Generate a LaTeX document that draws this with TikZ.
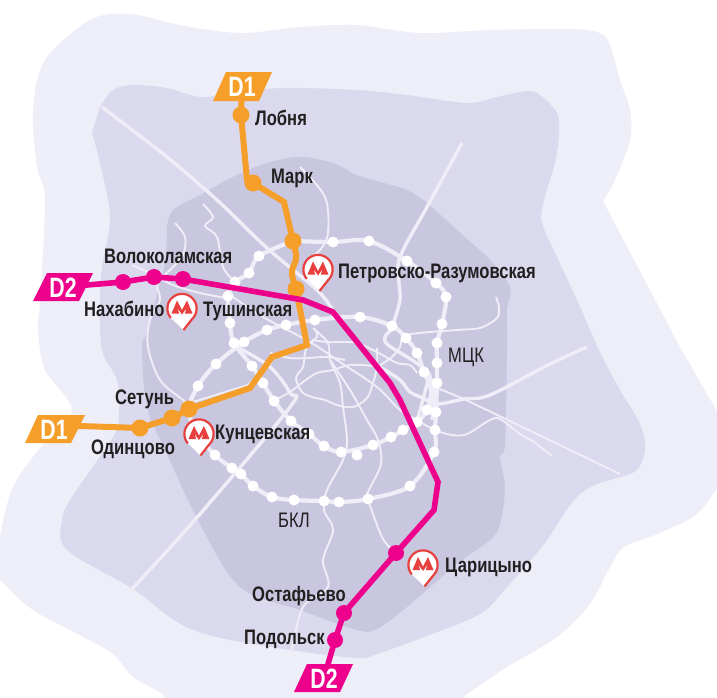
\documentclass[tikz,border=0pt]{standalone}
\usepackage{fontspec}
\newfontfamily\labfont[FakeStretch=0.79]{Liberation Sans}
\newfontfamily\tagfont[FakeStretch=0.76]{Liberation Sans}
\definecolor{zoneA}{HTML}{EEEEF8}
\definecolor{zoneB}{HTML}{DBD9ED}
\definecolor{zoneC}{HTML}{C9C7DF}
\definecolor{rail}{HTML}{EFEEF8}
\definecolor{dOne}{HTML}{F59E29}
\definecolor{dTwo}{HTML}{EC008C}
\definecolor{ink}{HTML}{231F20}
\definecolor{metro}{HTML}{E8403F}
\tikzset{
  smoothy/.style={smooth,tension=.55},
  radial/.style={draw=rail,line width=3.4pt,line join=round,fill=none},
  thinrail/.style={draw=rail,line width=1.9pt,line join=round,fill=none},
  ringrail/.style={draw=rail,line width=4.2pt,line join=round,fill=none},
  halt/.style={circle,fill=white,inner sep=0pt,minimum size=11pt},
  stopOne/.style={circle,fill=dOne,inner sep=0pt,minimum size=17pt},
  stopTwo/.style={circle,fill=dTwo,inner sep=0pt,minimum size=16pt},
  lineOne/.style={draw=dOne,line width=6pt,line join=miter},
  lineTwo/.style={draw=dTwo,line width=5.6pt,line join=miter},
  lab/.style={anchor=base west,inner sep=0pt,text=ink,font=\labfont\bfseries\fontsize{21}{22}\selectfont},
  labreg/.style={anchor=base west,inner sep=0pt,text=ink,font=\labfont\fontsize{21}{22}\selectfont},
  tagtext/.style={inner sep=0pt,text=white,font=\tagfont\bfseries\fontsize{28}{28}\selectfont},
  metropin/.pic={
    \fill[white] plot[domain=125:415,samples=50] ({14.6*cos(\x)},{14.6*sin(\x)}) -- (1.5,21.5) -- cycle;
    \draw[metro,line width=2.2pt,line join=miter] plot[domain=140:405,samples=50] ({14.6*cos(\x)},{14.6*sin(\x)}) -- (1.5,21.5);
    \fill[metro] (-10.5,5) -- (-5,-8) -- (0,1.5) -- (5,-8) -- (10.5,5) -- (2.8,5) -- (4.6,-0.5) -- (0,6) -- (-4.6,-0.5) -- (-2.8,5) -- cycle;
  }
}
\begin{document}
\begin{tikzpicture}[x=1pt,y=-1pt]
\useasboundingbox (0,0) rectangle (717,697);
\clip (0,0) rectangle (717,697);
% zones
\fill[zoneA] (603,201) -- (680,347) -- (725,425) -- plot[smoothy] coordinates {(722,480) (697,514) (657,534) (624,547) (610,567) (590,604) (557,637) (507,667) (467,694) (440,710) (180,710) (163,694) (133,677) (113,654) (83,637) (33,610) (7,587) (-4,570) (0,537) (13,487) (43,444) (72,410) (45,370) (38,330) (40,300) (45,200) (37,167) (33,110) (45,60) (90,20) (130,14) (180,25) (240,33) (300,27) (357,25) (420,33) (490,30) (570,29) (600,33) (610,45) (620,80) (630,110) (630,140) (615,180) (603,201)} -- cycle;
\fill[zoneB] plot[smoothy] coordinates {(100,107) (113,90) (133,85) (167,88) (200,97) (233,93) (283,88) (357,90) (407,95) (467,103) (497,97) (527,91) (540,95) (557,113) (559,133) (555,163) (544,200) (542,223) (557,257) (577,300) (599,350) (620,390) (640,424) (645,450) (634,472) (597,484) (574,500) (544,544) (507,587) (480,614) (424,637) (377,654) (357,658) (290,650) (217,637) (177,622) (133,589) (67,550) (62,520) (72,497) (113,437) (119,414) (117,380) (102,350) (100,300) (102,267) (110,217) (100,163) (92,133)} -- cycle;
\fill[zoneC] plot[smoothy] coordinates {(167,227) (173,210) (200,195) (233,177) (267,163) (300,157) (333,163) (357,175) (384,183) (407,190) (427,203) (457,230) (490,260) (510,287) (507,310) (507,347) (505,444) (500,457) (505,487) (500,524) (490,540) (457,564) (407,607) (377,629) (357,630) (300,610) (240,587) (200,524) (167,454) (147,407) (142,347) (147,333) (160,283) (166,260)} -- cycle;
% radial lines
\draw[radial] plot[smoothy] coordinates {(102,107) (167,157) (217,200) (267,248) (317,290) (333,310) (345,325)};
\draw[radial] plot[smoothy] coordinates {(462,143) (427,207) (400,257) (399,283) (400,300) (392,327) (385,337) (388,345) (412,360) (428,373) (433,390) (432,420)};
\draw[radial] plot[smoothy] coordinates {(132,589) (200,514) (290,407) (290,393) (270,367) (237,347)};
\draw[radial] plot[smoothy] coordinates {(587,347) (550,364) (490,395) (464,399) (437,404) (423,398) (410,392) (400,380) (380,367)};
\draw[radial] (430,373) -- (417,422);
\draw[radial] (434,380) -- (434,415);
% thin lines
\draw[thinrail] plot[smoothy] coordinates {(233,297) (263,317) (310,342) (340,362) (377,387) (400,410) (420,422) (440,432) (464,435) (490,420) (500,419) (520,434) (534,442) (552,456)};
\draw[thinrail] (620,474) -- (464,399) -- (430,385);
\draw[thinrail] plot[smoothy] coordinates {(313,328) (328,343) (330,360) (340,383) (343,407) (347,440) (343,460) (327,490) (324,510) (333,530) (323,560) (328,587) (303,607) (292,650)};
\draw[thinrail] plot[smoothy] coordinates {(315,330) (317,337) (308,345) (305,353) (303,367) (296,378) (302,392) (312,397) (325,400) (337,405) (353,407) (367,398) (373,383) (377,367) (377,348)};
\draw[thinrail] plot[smoothy] coordinates {(275,400) (290,392) (303,382) (317,373) (333,370) (350,365) (373,366) (383,370) (400,380)};
\draw[thinrail] plot[smoothy] coordinates {(270,353) (290,358) (307,358) (327,357) (345,360)};
\draw[thinrail] plot[smoothy] coordinates {(312,340) (327,342) (340,342) (357,343) (377,352) (397,363) (410,365) (417,373)};
\draw[thinrail] plot[smoothy] coordinates {(330,360) (350,390) (367,420) (378,440) (381,464) (369,490) (368,499) (382,537) (394,552)};
\draw[thinrail] plot[smoothy] coordinates {(377,367) (392,357) (400,347) (407,335) (457,330) (480,328) (497,318) (499,307) (496,297)};
\draw[thinrail] plot[smoothy] coordinates {(175,223) (185,237) (183,255) (170,270) (157,283) (160,300) (150,320) (148,347) (160,380) (183,400) (190,408)};
\draw[thinrail] plot[smoothy] coordinates {(203,204) (213,217) (205,226) (217,237) (223,267) (235,282)};
\draw[thinrail] plot[smoothy] coordinates {(132,265) (150,273) (173,285) (200,293) (227,298)};
\draw[thinrail] plot[smoothy] coordinates {(300,167) (325,197) (328,233) (320,250) (310,257)};
\draw[thinrail] (193,402) -- (248,385) -- (272,362);
% rings
\draw[ringrail] plot[smoothy] coordinates {(293,241) (333,242) (369,241) (407,261) (436,283) (446,297) (442,324) (437,343) (437,363) (437,383) (436,412) (435,430) (434,452) (410,486) (368,499) (339,502) (324,501) (294,500) (272,497) (253,486) (241,474) (232,468) (215,455) (196,432) (189,409) (198,386) (216,364) (244,342) (267,330) (286,325) (315,320) (360,317) (392,326) (406,338) (417,353) (424,372) (431,390) (427,410) (417,422) (403,430) (391,437) (373,445) (341,452) (324,446) (309,434) (291,421) (274,401) (263,383) (252,366) (234,343) (230,323) (228,296) (235,282) (249,273) (259,256) (293,241)};
% ring halts
\foreach \n/\p in {a/{(333,242)},b/{(369,241)},c/{(407,261)},d/{(436,283)},e/{(446,297)},f/{(442,324)},g/{(437,343)},h/{(437,363)},i/{(437,383)},j/{(427,410)},k/{(436,412)},l/{(435,430)},m/{(434,452)},n/{(410,486)},o/{(368,499)},p/{(339,502)},q/{(324,501)},r/{(294,500)},s/{(272,497)},t/{(253,486)},u/{(241,474)},v/{(232,468)},w/{(215,455)},x/{(198,386)},y/{(216,364)},z/{(244,342)},aa/{(267,330)},ab/{(286,325)},ac/{(315,320)},ad/{(360,317)},ae/{(392,326)},af/{(406,338)},ag/{(417,353)},ah/{(424,372)},ai/{(417,422)},aj/{(403,430)},ak/{(391,437)},al/{(373,445)},am/{(357,455)},an/{(341,452)},ao/{(324,446)},ap/{(309,434)},aq/{(291,421)},ar/{(274,401)},as/{(263,383)},at/{(252,366)},au/{(234,343)},av/{(230,323)},aw/{(228,296)},ax/{(235,282)},ay/{(249,273)},az/{(259,256)}}
  \node[halt] (halt\n) at \p {};
% D1
\coordinate (tagOneTop) at (242,87);
\coordinate (tagOneLeft) at (54,429);
\node[stopOne] (lobnya) at (241,115) {};
\node[stopOne] (mark) at (253,183) {};
\node[stopOne] (petr) at (293,241) {};
\node[stopOne] (strog) at (296,289) {};
\node[stopOne] (setun) at (189,409) {};
\node[stopOne] (kunts) at (172,418) {};
\node[stopOne] (odin) at (140,428) {};
\coordinate (o1) at (247,180);
\coordinate (o2) at (284,202);
\coordinate (o3) at (297,258);
\coordinate (o4) at (291,272);
\coordinate (o5) at (307,345);
\coordinate (o6) at (272,357);
\coordinate (o7) at (250,388);
\coordinate (o8) at (80,426);
\draw[lineOne] (tagOneTop) -- (lobnya.center) -- (o1) -- (mark.center) -- (o2) -- (petr.center);
\draw[lineOne,rounded corners=5pt] (petr.center) -- (o3) -- (o4) -- (strog.center);
\draw[lineOne] (strog.center) -- (o5) -- (o6) -- (o7) -- (setun.center) -- (kunts.center) -- (odin.center) -- (o8) -- (tagOneLeft);
% D2
\coordinate (tagTwoLeft) at (63,287);
\coordinate (tagTwoBot) at (324,678);
\node[stopTwo] (nakh) at (123,282) {};
\node[stopTwo] (volok) at (154,277) {};
\node[stopTwo] (tush) at (183,279) {};
\node[stopTwo] (tsar) at (396,553) {};
\node[stopTwo] (osta) at (344,613) {};
\node[stopTwo] (podo) at (335,640) {};
\coordinate (t1) at (303,300);
\coordinate (t2) at (333,312);
\coordinate (t3) at (390,383);
\coordinate (t4) at (400,400);
\coordinate (t5) at (438,482);
\coordinate (t6) at (434,510);
\draw[lineTwo] (tagTwoLeft) -- (nakh.center) -- (volok.center) -- (tush.center) -- (t1) -- (t2) -- (t3) -- (t4) -- (t5) -- (t6) -- (tsar.center) -- (osta.center) -- (podo.center) -- (tagTwoBot);
% tags
\fill[dOne] (226,72) -- (272,72) -- (259,101) -- (213,101) -- cycle;
\fill[dOne] (38,415) -- (85,415) -- (71,443) -- (25,443) -- cycle;
\fill[dTwo] (47,273) -- (93,273) -- (79,301) -- (33,301) -- cycle;
\fill[dTwo] (307,664) -- (353,664) -- (340,692) -- (294,692) -- cycle;
\node[tagtext] (tagA) at (242,87) {D1};
\node[tagtext] (tagB) at (54,430) {D1};
\node[tagtext] (tagC) at (63,288) {D2};
\node[tagtext] (tagD) at (324,679) {D2};
% metro pins
\pic at (318,269.5) {metropin};
\pic at (182,308.5) {metropin};
\pic at (199,434) {metropin};
\pic at (423,565) {metropin};
% labels
\node[lab] (l1) at (255,125) {Лобня};
\node[lab] (l2) at (271,183) {Марк};
\node[lab] (l3) at (338,278) {Петровско-Разумовская};
\node[lab] (l4) at (104,263) {Волоколамская};
\node[lab] (l5) at (84,316) {Нахабино};
\node[lab] (l6) at (203,316) {Тушинская};
\node[lab] (l7) at (115,404) {Сетунь};
\node[lab] (l8) at (91,454) {Одинцово};
\node[lab] (l9) at (215,439) {Кунцевская};
\node[lab] (l10) at (252,601) {Остафьево};
\node[lab] (l11) at (244,644) {Подольск};
\node[lab] (l12) at (445,572) {Царицыно};
\node[labreg] (l13) at (448,362) {МЦК};
\node[labreg] (l14) at (278,527) {БКЛ};
\end{tikzpicture}
\end{document}
